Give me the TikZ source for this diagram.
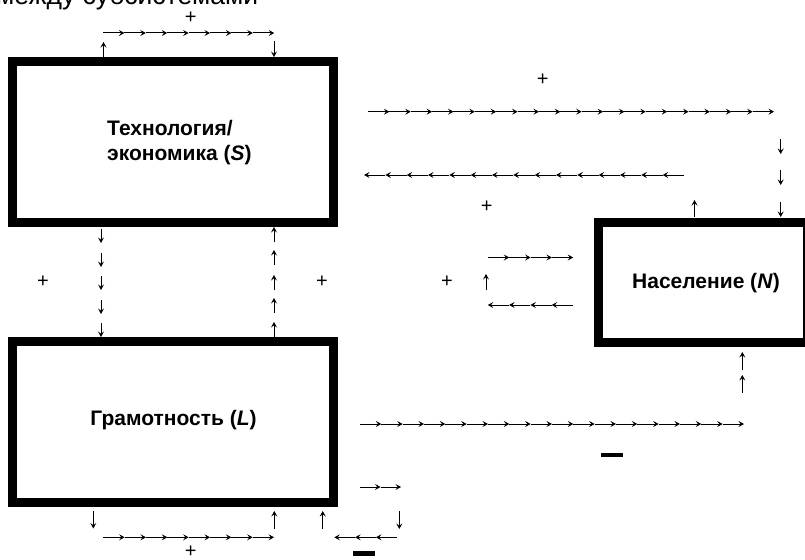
\documentclass[tikz,border=0pt]{standalone}
\usepackage{fontspec}
\setmainfont{Liberation Sans}
\usetikzlibrary{arrows.meta}
\tikzset{
  sysbox/.style={draw=black, line width=9pt, rectangle, inner sep=0pt},
  arr/.style={line width=1pt, -{Stealth[length=5.5pt,width=6pt,inset=2.2pt]}},
  lbl/.style={font=\fontsize{21}{25}\selectfont\bfseries, inner sep=0pt},
  sgn/.style={font=\fontsize{20}{22}\selectfont, inner sep=0pt},
  minus/.style={fill=black, inner sep=0pt, minimum width=22pt, minimum height=4.4pt},
  ttl/.style={font=\fontsize{26.5}{30}\selectfont, inner sep=0pt},
}
% chain of arrows pointing right: x0, y, count, width
\newcommand\myRchain[4]{\foreach \i in {1,...,#3}{\draw[arr] ({#1+(\i-1)*#4},#2) -- ({#1+\i*#4},#2);}}
% chain of arrows pointing left: xstart (right end), y, count, width
\newcommand\myLchain[4]{\foreach \i in {1,...,#3}{\draw[arr] ({#1-(\i-1)*#4},#2) -- ({#1-\i*#4},#2);}}
\begin{document}
\begin{tikzpicture}[x=1pt,y=-1pt]
\useasboundingbox (0,0) rectangle (805,559);
% title (cut off at top, as in the reference)
\node[ttl, anchor=base west] (title) at (-4,5) {между субсистемами};
% boxes
\node[sysbox, minimum width=321pt, minimum height=161pt] (S) at (173,142) {};
\node[sysbox, minimum width=321pt, minimum height=161pt] (L) at (173,422) {};
\node[sysbox, minimum width=208.7pt, minimum height=120pt] (N) at (702.85,282.5) {};
% labels
\node[lbl, anchor=west, align=left] (Slbl) at (107,143) {Технология/\\экономика (\textit{S})};
\node[lbl] (Nlbl) at (706,283) {Население (\textit{N})};
\node[lbl] (Llbl) at (173.5,420) {Грамотность (\textit{L})};
% top loop S -> S
\draw[arr] (103.5,57) -- (103.5,42);
\myRchain{103}{33}{8}{21.4}
\draw[arr] (274,41) -- (274,57);
\node[sgn] (p1) at (190.7,18) {+};
% S -> N and N -> S (upper right)
\node[sgn] (p2) at (542.7,80) {+};
\myRchain{368}{111.7}{19}{21.37}
\draw[arr] (780.7,139) -- (780.7,154);
\draw[arr] (780.7,170) -- (780.7,185);
\draw[arr] (780.7,202) -- (780.7,217);
\draw[arr] (694.5,217) -- (694.5,200);
\myLchain{684}{175}{15}{21.33}
\node[sgn] (p3) at (486.7,206.7) {+};
% S -> L column
\foreach \t in {243,267,290,314,337}{\draw[arr] (101,\t-14) -- (101,\t);}
% L -> S column
\foreach \t in {227,250,275,298,322}{\draw[arr] (274,\t+15) -- (274,\t);}
\node[sgn] (p4) at (43,282) {+};
\node[sgn] (p5) at (322,282) {+};
% N self loop
\node[sgn] (p6) at (447,282) {+};
\myRchain{488}{257.5}{4}{21.3}
\draw[arr] (486,290) -- (486,274);
\myLchain{573}{305}{4}{21.3}
% L -> N
\myRchain{360}{424}{18}{21.33}
\draw[arr] (742.3,393) -- (742.3,375);
\draw[arr] (742.3,369.5) -- (742.3,352);
\node[minus] (m1) at (611.7,455) {};
% L self loop (negative)
\myRchain{360}{487}{2}{20.5}
\draw[arr] (399.3,511) -- (399.3,529);
\myLchain{396.7}{537.3}{3}{20.8}
\draw[arr] (322.7,529) -- (322.7,511);
\node[minus] (m2) at (363.5,553.3) {};
% L self loop (positive)
\draw[arr] (93.3,511) -- (93.3,528.5);
\myRchain{103.3}{537.3}{8}{21.34}
\draw[arr] (274.3,529) -- (274.3,511);
\node[sgn] (p7) at (190.7,551.7) {+};
\end{tikzpicture}
\end{document}
